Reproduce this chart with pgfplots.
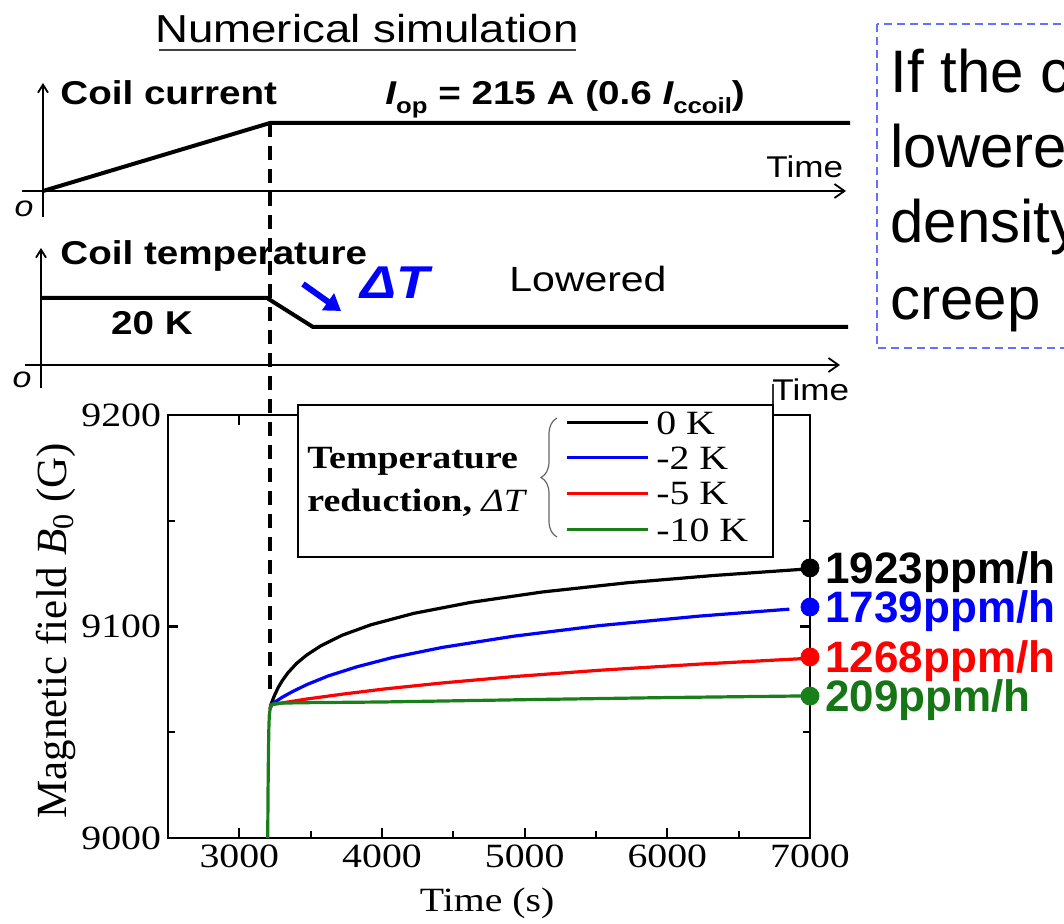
\documentclass[border=0pt]{standalone}
\usepackage{fontspec}
\setmainfont{Liberation Serif}
\setsansfont{Liberation Sans}
\newfontfamily\slidefont[FakeStretch=1.17]{Liberation Sans}
\newfontfamily\plotfont[FakeStretch=1.17]{Liberation Serif}
\usepackage{pgfplots}
\pgfplotsset{compat=1.18}
\usetikzlibrary{arrows.meta,decorations.pathreplacing}
\definecolor{cgreen}{RGB}{25,128,25}
\definecolor{tgreen}{RGB}{22,118,22}
\definecolor{cblue}{RGB}{0,0,255}
\definecolor{cred}{RGB}{255,0,0}
\definecolor{boxblue}{RGB}{100,112,255}

\begin{document}
\begin{tikzpicture}
\useasboundingbox (0,0) rectangle (532pt,462pt);
% ---------------- main plot ----------------
\begin{axis}[
  at={(84pt,43pt)}, anchor=south west,
  scale only axis, width=321pt, height=211.5pt,
  xmin=2500, xmax=7000, ymin=9000, ymax=9200,
  enlargelimits=false,
  xtick={3000,4000,5000,6000,7000},
  ytick={9000,9100,9200},
  minor x tick num=1, minor y tick num=1,
  tick align=inside,
  major tick length=5pt, minor tick length=3.5pt,
  major tick style={line width=1.1pt,black},
  minor tick style={line width=1.1pt,black},
  axis line style={line width=1.3pt},
  /pgf/number format/1000 sep={},
  /pgf/number format/assume math mode=true,
  tick label style={font=\plotfont\fontsize{17}{17}\selectfont},
  xlabel={Time (s)},
  ylabel={Magnetic field {\itshape B}\textsubscript{0} (G)},
  xlabel style={at={(axis description cs:0.497,-0.154)}, anchor=center, font=\plotfont\fontsize{17}{18}\selectfont},
  ylabel style={at={(axis description cs:-0.174,0.49)}, anchor=center, font=\fontsize{21.5}{22}\selectfont},
  clip=false,
]
\addplot[black, line width=1.6pt] coordinates {
(3216,9061) (3222,9063.0) (3232,9065.0) (3247,9067.5) (3272,9071.1) (3302,9074.5)
(3342,9078.2) (3402,9082.6) (3472,9086.5) (3572,9090.9) (3722,9095.9) (3922,9100.8)
(4222,9106.2) (4622,9111.4) (5122,9116.3) (5722,9120.7) (6322,9124.1) (7000,9127.3)};
\addplot[cblue, line width=1.6pt] coordinates {
(3216,9061) (3222,9063.0) (3252,9064.4) (3302,9066.6) (3372,9069.2) (3472,9072.5)
(3622,9076.6) (3822,9080.9) (4072,9085.3) (4422,9090.1) (4922,9095.4) (5522,9100.4)
(6222,9104.9) (6855,9108.2)};
\addplot[cred, line width=1.6pt] coordinates {
(3216,9061) (3222,9063.0) (3322,9064.1) (3472,9065.7) (3722,9068.0) (4022,9070.5)
(4422,9073.3) (4922,9076.3) (5522,9079.3) (6222,9082.2) (7000,9085.0)};
\addplot[cgreen, line width=1.6pt] coordinates {
(3199,9000) (3201,9020) (3204,9040) (3207,9052) (3210,9058) (3216,9061.2)
(3225,9062.7) (3240,9063.4) (3300,9063.8) (3500,9064) (4000,9064.3)
(5000,9065.4) (6000,9066.4) (7000,9067.2)};
\addplot[only marks, mark=*, mark size=4.5pt, black] coordinates {(7000,9127.7)};
\addplot[only marks, mark=*, mark size=4.5pt, cblue] coordinates {(7000,9109.2)};
\addplot[only marks, mark=*, mark size=4.5pt, cred] coordinates {(7000,9085.6)};
\addplot[only marks, mark=*, mark size=4.5pt, cgreen] coordinates {(7000,9067.1)};
\tikzset{ppm/.style={anchor=base west, inner sep=0pt, xshift=7.5pt, yshift=-7.9pt,
  font=\sffamily\bfseries\fontsize{22}{22}\selectfont}}
\node[ppm, text=black] at (axis cs:7000,9127.7) {1923ppm/h};
\node[ppm, text=cblue] at (axis cs:7000,9109.2) {1739ppm/h};
\node[ppm, text=cred] at (axis cs:7000,9085.6) {1268ppm/h};
\node[ppm, text=tgreen] at (axis cs:7000,9067.1) {209ppm/h};
\end{axis}
% ---------------- overlay (pixel coordinates) ----------------
\begin{axis}[
  at={(266pt,231pt)}, anchor=center,
  scale only axis, width=532pt, height=462pt,
  xmin=0, xmax=1064, ymin=0, ymax=924, y dir=reverse,
  enlargelimits=false, hide axis, clip=false,
]
% title
\node[anchor=base, inner sep=0pt, font=\slidefont\fontsize{19.5}{20}\selectfont] at (367,43) {Numerical simulation};
\addplot[black!75, line width=0.9pt] coordinates {(159,50) (576,50)};
% coil current schematic
\draw[line width=0.9pt, -{Straight Barb[length=4pt,width=5pt]}] (43,217) -- (43,83);
\draw[line width=0.9pt, -{Straight Barb[length=5pt,width=7pt]}] (22,191) -- (846,191);
\node[font=\slidefont\itshape\fontsize{14.5}{14}\selectfont] at (24,209) {o};
\addplot[black, line width=2pt] coordinates {(43,191) (270,123) (850,123)};
\node[anchor=base west, inner sep=0pt, font=\slidefont\bfseries\fontsize{16.5}{18}\selectfont] at (60,105) {Coil current};
\node[anchor=base west, inner sep=0pt, font=\slidefont\bfseries\fontsize{16.5}{18}\selectfont] at (385,105)
  {{\itshape I}\raisebox{-4.5pt}{\fontsize{11}{12}\selectfont op} = 215 A (0.6 {\itshape I}\raisebox{-4.5pt}{\fontsize{11}{12}\selectfont ccoil})};
\node[anchor=base west, inner sep=0pt, font=\slidefont\fontsize{15}{15}\selectfont] at (766,178) {Time};
% coil temperature schematic
\draw[line width=0.9pt, -{Straight Barb[length=4pt,width=5pt]}] (41,388) -- (41,248);
\draw[line width=0.9pt, -{Straight Barb[length=5pt,width=7pt]}] (25,365) -- (840,365);
\node[font=\slidefont\itshape\fontsize{14.5}{14}\selectfont] at (22,380) {o};
\addplot[black, line width=2pt] coordinates {(41,298) (267,298) (313,327) (848,327)};
\node[anchor=base west, inner sep=0pt, font=\slidefont\bfseries\fontsize{16.5}{18}\selectfont] at (60,265) {Coil temperature};
\node[font=\slidefont\bfseries\fontsize{16.5}{18}\selectfont] at (152,323) {20 K};
\draw[cblue, line width=3pt, -{Triangle[length=8pt,width=10pt]}] (303,284) -- (341,311);
\node[text=cblue, font=\slidefont\bfseries\itshape\fontsize{23}{24}\selectfont] at (395,283) {ΔT};
\node[font=\slidefont\fontsize{17.5}{18}\selectfont] at (588,279) {Lowered};
\node[anchor=base west, inner sep=0pt, font=\slidefont\fontsize{15}{15}\selectfont] at (772,401) {Time};
\addplot[black!80, line width=1pt] coordinates {(773,384) (773,405)};
% dashed time marker
\addplot[black, line width=1.6pt, dash pattern=on 7pt off 4.5pt] coordinates {(270,123) (270,697)};
% legend box
\draw[line width=1.2pt, fill=white] (298,405) rectangle (773,557);
\addplot[black, line width=1.5pt] coordinates {(567,423) (648,423)};
\addplot[cblue, line width=1.5pt] coordinates {(567,458) (648,458)};
\addplot[cred, line width=1.5pt] coordinates {(567,494) (648,494)};
\addplot[cgreen, line width=1.5pt] coordinates {(567,530) (648,530)};
\tikzset{legt/.style={anchor=west, inner sep=0pt, font=\plotfont\fontsize{17}{17}\selectfont}}
\node[legt] at (656,423) {0 K};
\node[legt] at (656,458) {-2 K};
\node[legt] at (656,494) {-5 K};
\node[legt] at (656,530) {-10 K};
\node[anchor=base west, inner sep=0pt, font=\plotfont\bfseries\fontsize{16.2}{17}\selectfont] at (307,469) {Temperature};
\node[anchor=base west, inner sep=0pt, font=\plotfont\bfseries\fontsize{16.2}{17}\selectfont] at (307,512) {reduction, {\mdseries\itshape ΔT}};
\draw[decorate, decoration={brace, amplitude=8pt}, line width=0.6pt, black!60] (557,537) -- (557,418);
% right text box
\draw[boxblue, line width=0.8pt, dash pattern=on 4pt off 2.5pt] (877,24) rectangle (1100,348);
\tikzset{rt/.style={anchor=base west, inner sep=0pt, font=\sffamily\fontsize{30}{37.5}\selectfont}}
\node[rt] at (890,93) {If the coil};
\node[rt] at (890,168) {lowered};
\node[rt] at (890,243) {density};
\node[rt] at (890,320) {creep};
\end{axis}
\end{tikzpicture}
\end{document}
